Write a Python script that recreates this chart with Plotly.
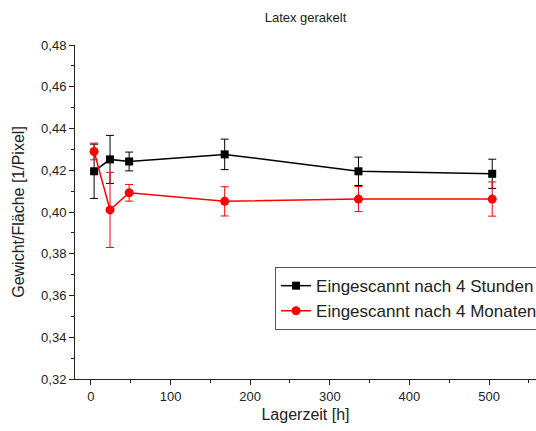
import plotly.graph_objects as go

x_vals = [4, 24, 48, 168, 336, 504]
y_4h = [0.4195, 0.4252, 0.4242, 0.4276, 0.4195, 0.4183]
err_4h = [0.0130, 0.0115, 0.0045, 0.0073, 0.0068, 0.0070]
y_4m = [0.4290, 0.4010, 0.4092, 0.4051, 0.4062, 0.4062]
err_4m = [0.0040, 0.0180, 0.0040, 0.0070, 0.0060, 0.0082]

font = "Liberation Sans, Arial, sans-serif"

fig = go.Figure()
fig.add_trace(go.Scatter(
    x=x_vals, y=y_4h, mode="lines+markers", name="Eingescannt nach 4 Stunden",
    line=dict(color="black", width=1.5),
    marker=dict(symbol="square", size=8, color="black"),
    error_y=dict(type="data", array=err_4h, visible=True, color="black", thickness=1, width=4),
))
fig.add_trace(go.Scatter(
    x=x_vals, y=y_4m, mode="lines+markers", name="Eingescannt nach 4 Monaten",
    line=dict(color="red", width=1.5),
    marker=dict(symbol="circle", size=9, color="red"),
    error_y=dict(type="data", array=err_4m, visible=True, color="red", thickness=1, width=4),
))

fig.update_layout(
    width=536, height=431,
    margin=dict(l=75, r=0, t=45, b=52, autoexpand=False),
    paper_bgcolor="white", plot_bgcolor="white",
    separators=", ",
    font=dict(family=font, size=13, color="#222"),
    title=dict(text="Latex gerakelt", x=0.57, xanchor="center", y=0.96, yanchor="middle",
               font=dict(size=13, color="#222")),
    showlegend=True,
    legend=dict(x=0.434, y=0.335, xanchor="left", yanchor="top",
                bordercolor="#555", borderwidth=1, bgcolor="white",
                font=dict(size=17, color="#222"), tracegroupgap=0),
    xaxis=dict(range=[-20, 559], showgrid=False, zeroline=False,
               showline=True, linecolor="#222", linewidth=1,
               ticks="outside", ticklen=5, tickcolor="#222",
               tickvals=[0, 100, 200, 300, 400, 500],
               minor=dict(ticks="outside", ticklen=3, dtick=50, tick0=0, tickcolor="#222"),
               title=dict(text="Lagerzeit [h]", font=dict(size=16), standoff=6)),
    yaxis=dict(range=[0.32, 0.48], showgrid=False, zeroline=False,
               showline=True, linecolor="#222", linewidth=1,
               ticks="outside", ticklen=5, tickcolor="#222",
               dtick=0.02, tick0=0.32, tickformat=".2f",
               minor=dict(ticks="outside", ticklen=3, dtick=0.01, tickcolor="#222"),
               title=dict(text="Gewicht/Fläche [1/Pixel]", font=dict(size=16), standoff=12)),
)

fig.write_html("out.html")
